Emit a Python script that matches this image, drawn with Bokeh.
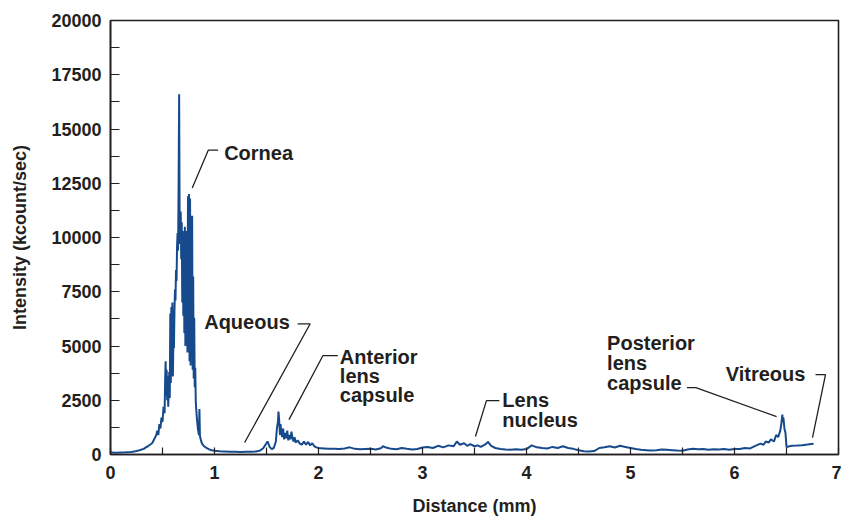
from bokeh.plotting import figure
from bokeh.models import FixedTicker, Range1d
from bokeh.core.properties import value
from bokeh.embed import file_html
from bokeh.resources import INLINE

# --- Scan trace: intensity (kcount/sec) versus depth (mm) through the eye ---
# Approach to the cornea
x_pre = [0.00, 0.05, 0.10, 0.15, 0.20, 0.24, 0.27, 0.30, 0.32, 0.34, 0.36, 0.38, 0.40,
         0.42, 0.44, 0.45, 0.46, 0.47, 0.48, 0.49, 0.50, 0.51, 0.52]
y_pre = [90, 85, 95, 100, 120, 150, 180, 230, 260, 330, 380, 450, 520,
         700, 900, 1100, 900, 1400, 1200, 1700, 1500, 2200, 1900]

# Cornea
x_cornea = [0.525, 0.53, 0.535, 0.54, 0.545, 0.55, 0.555, 0.56, 0.565, 0.57, 0.575, 0.58,
            0.585, 0.59, 0.595, 0.60, 0.605, 0.61, 0.615, 0.62, 0.625, 0.63, 0.635, 0.64,
            0.645, 0.65, 0.655, 0.66, 0.665, 0.67, 0.675, 0.68, 0.685, 0.69, 0.695, 0.70,
            0.705, 0.71, 0.715, 0.72, 0.725, 0.73, 0.735, 0.74, 0.745, 0.75, 0.755, 0.76,
            0.765, 0.77, 0.775, 0.78, 0.785, 0.79, 0.795, 0.80, 0.805, 0.81, 0.815, 0.82,
            0.83, 0.84, 0.85, 0.855, 0.86, 0.87, 0.88, 0.90, 0.93, 0.96]
y_cornea = [3300, 4300, 2700, 3900, 2500, 3600, 2200, 2900, 3800, 2600, 6500, 3300,
            6800, 4100, 7000, 3600, 5400, 4900, 6600, 7600, 7100, 8500, 8000, 9600,
            10200, 9400, 12500, 16600, 10400, 9700, 11200, 9000, 10700, 7000, 10300, 6400,
            9900, 5600, 10500, 5000, 10300, 5900, 9600, 4700, 11900, 5400, 12000, 4300,
            11800, 4100, 10400, 4800, 11000, 3900, 8200, 3500, 6300, 3100, 4000, 2400,
            1700, 1200, 900, 2100, 850, 650, 500, 380, 280, 210]

# Aqueous and anterior lens capsule
x_anterior = [1.00, 1.05, 1.10, 1.15, 1.20, 1.25, 1.30, 1.35, 1.40, 1.44, 1.47, 1.49,
              1.51, 1.53, 1.55, 1.57, 1.59, 1.60, 1.61, 1.615, 1.62, 1.625, 1.63, 1.635,
              1.64, 1.65, 1.66, 1.665, 1.67, 1.68, 1.69, 1.70, 1.705, 1.71, 1.72, 1.73,
              1.74, 1.75, 1.76, 1.77, 1.78, 1.80, 1.82, 1.84, 1.86, 1.88, 1.90, 1.92,
              1.94, 1.96, 1.98]
y_anterior = [170, 150, 140, 130, 125, 120, 125, 130, 140, 180, 300, 450,
              600, 350, 250, 300, 600, 1200, 1500, 1980, 1700, 1300, 900, 1400,
              1100, 800, 1200, 900, 700, 1000, 750, 1100, 800, 650, 900, 700,
              1050, 750, 600, 800, 550, 650, 500, 450, 600, 450, 580, 420,
              520, 380, 330]

# Lens cortex and nucleus
x_lens = [2.00, 2.05, 2.10, 2.15, 2.20, 2.25, 2.30, 2.35, 2.40, 2.45, 2.50, 2.55,
          2.60, 2.62, 2.65, 2.70, 2.75, 2.80, 2.85, 2.90, 2.95, 3.00, 3.05, 3.10,
          3.15, 3.20, 3.25, 3.30, 3.33, 3.36, 3.40, 3.43, 3.46, 3.50, 3.53, 3.56,
          3.60, 3.63, 3.66, 3.70, 3.75, 3.80, 3.85, 3.90, 3.95, 4.00, 4.05, 4.10,
          4.15, 4.20, 4.25, 4.30, 4.35, 4.40, 4.45, 4.50, 4.55, 4.60, 4.65, 4.70,
          4.75, 4.80, 4.85, 4.90, 4.95, 5.00, 5.05, 5.10, 5.15, 5.20, 5.25, 5.30,
          5.35, 5.40, 5.45, 5.50, 5.55, 5.60, 5.65, 5.70, 5.75, 5.80, 5.85, 5.90,
          5.95, 6.00]
y_lens = [300, 280, 260, 270, 250, 280, 330, 260, 240, 250, 260, 230,
          290, 380, 320, 260, 240, 300, 260, 230, 250, 320, 350, 300,
          400, 330, 420, 380, 600, 450, 520, 400, 480, 380, 420, 350,
          450, 580, 400, 300, 250, 230, 220, 240, 220, 250, 420, 330,
          300, 280, 350, 300, 380, 300, 260, 200, 150, 140, 160, 300,
          330, 380, 320, 400, 350, 300, 250, 220, 200, 180, 200, 230,
          220, 200, 180, 170, 230, 260, 240, 250, 220, 240, 230, 250,
          220, 250]

# Posterior lens capsule and vitreous
x_posterior = [6.05, 6.10, 6.15, 6.20, 6.25, 6.28, 6.30, 6.33, 6.35, 6.38, 6.40, 6.42,
               6.44, 6.45, 6.46, 6.465, 6.47, 6.48, 6.49, 6.50, 6.55, 6.60, 6.65, 6.70,
               6.76]
y_posterior = [250, 300, 280, 400, 500, 450, 600, 550, 700, 600, 900, 800,
               1100, 1400, 1840, 1500, 1700, 1200, 1000, 350, 400, 410, 430, 460,
               500]

distance_mm = x_pre + x_cornea + x_anterior + x_lens + x_posterior
intensity = y_pre + y_cornea + y_anterior + y_lens + y_posterior

# Axes
x_ticks = [0, 1, 2, 3, 4, 5, 6, 7]
x_minor_ticks = [0.5, 1.5, 2.5, 3.5, 4.5, 5.5, 6.5]
y_ticks = [0, 2500, 5000, 7500, 10000, 12500, 15000, 17500, 20000]
y_minor_ticks = [1250, 3750, 6250, 8750, 11250, 13750, 16250, 18750]

# Region labels (left edge, baseline) and their leader lines
label_text = ["Cornea", "Aqueous", "Anterior", "lens", "capsule", "Lens", "nucleus",
              "Posterior", "lens", "capsule", "Vitreous"]
label_x = [1.093, 0.901, 2.205, 2.205, 2.205, 3.768, 3.768, 4.775, 4.775, 4.775, 5.916]
label_y = [13890, 6120, 4510, 3640, 2760, 2530, 1570, 5150, 4230, 3310, 3730]

leader_xs = [[1.035, 0.94, 0.786], [1.80, 1.92, 1.29], [2.186, 2.042, 1.716],
             [3.739, 3.615, 3.509], [5.542, 5.628, 6.405], [6.779, 6.875, 6.750]]
leader_ys = [[14023, 14023, 12276], [6023, 6023, 552], [4552, 4552, 1609],
             [2483, 2483, 828], [3080, 3080, 1747], [3678, 3678, 782]]

FONT = "Liberation Sans"
INK = "#231f20"

p = figure(width=841, height=518, output_backend="svg", toolbar_location=None,
           x_range=Range1d(0, 7), y_range=Range1d(0, 20000),
           min_border_left=110, min_border_right=3, min_border_top=20, min_border_bottom=63)
p.background_fill_color = "white"
p.border_fill_color = "white"
p.outline_line_color = INK
p.outline_line_width = 1.6
p.grid.visible = False

p.xaxis.ticker = FixedTicker(ticks=x_ticks, minor_ticks=x_minor_ticks)
p.yaxis.ticker = FixedTicker(ticks=y_ticks, minor_ticks=y_minor_ticks)

for ax in (p.xaxis, p.yaxis):
    ax.axis_line_color = INK
    ax.axis_line_width = 1.6
    ax.major_tick_line_color = INK
    ax.minor_tick_line_color = INK
    ax.major_tick_line_width = 1.2
    ax.minor_tick_line_width = 1.2
    ax.major_tick_out = 0
    ax.minor_tick_out = 0
    ax.major_label_text_font = FONT
    ax.major_label_text_font_style = "bold"
    ax.major_label_text_font_size = "18px"
    ax.major_label_text_color = INK
    ax.axis_label_text_font = FONT
    ax.axis_label_text_font_style = "bold"
    ax.axis_label_text_font_size = "18px"
    ax.axis_label_text_color = INK

p.xaxis.major_tick_in = 7
p.xaxis.minor_tick_in = 7
p.yaxis.major_tick_in = 9
p.yaxis.minor_tick_in = 9
p.xaxis.axis_label = "Distance (mm)"
p.yaxis.axis_label = "Intensity (kcount/sec)"
p.xaxis.major_label_standoff = 11
p.xaxis.axis_label_standoff = 14
p.yaxis.major_label_standoff = 9
p.yaxis.axis_label_standoff = 18

p.line(distance_mm, intensity, line_color="#174a8c", line_width=2)

p.multi_line(leader_xs, leader_ys, line_color=INK, line_width=1.3)
p.text(label_x, label_y, text=label_text, text_font=value(FONT), text_font_style="bold",
       text_font_size="20px", text_color=INK, text_baseline="alphabetic", text_align="left")

open("out.html", "w").write(file_html(p, INLINE))
